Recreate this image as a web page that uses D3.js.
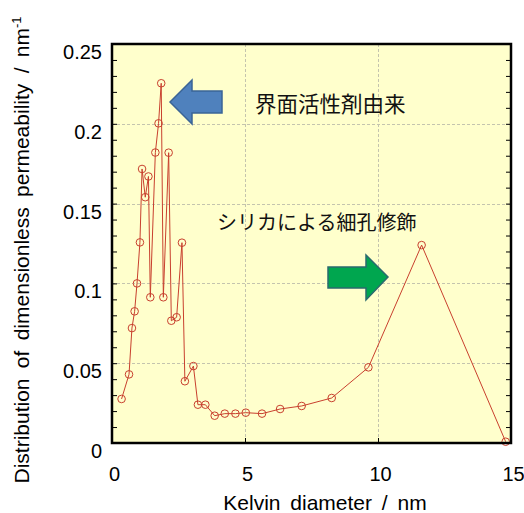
<!DOCTYPE html>
<html>
<head>
<meta charset="utf-8">
<script src="https://cdn.jsdelivr.net/npm/d3@7"></script>
<style>
  html, body { margin: 0; padding: 0; background: #fff; }
  svg { display: block; }
</style>
</head>
<body>
<svg id="chart" width="524" height="513"></svg>
<script>
// Kelvin diameter (nm) and distribution of dimensionless permeability (nm^-1)
const diameters = [0.36, 0.64, 0.75, 0.85, 0.94, 1.05, 1.13, 1.25, 1.37, 1.44,
                   1.63, 1.75, 1.85, 1.93, 2.13, 2.23, 2.43, 2.63, 2.74, 3.06,
                   3.23, 3.51, 3.86, 4.24, 4.64, 5.03, 5.64, 6.32, 7.13, 8.26,
                   9.64, 11.64, 14.8];
const permeability = [0.0276, 0.043, 0.072, 0.0825, 0.100, 0.1257, 0.1717, 0.154, 0.167, 0.0913,
                      0.182, 0.2003, 0.2254, 0.0913, 0.1819, 0.0766, 0.0788, 0.1255, 0.0387, 0.0482,
                      0.024, 0.024, 0.0171, 0.0184, 0.0184, 0.019, 0.0184, 0.0213, 0.0232, 0.0282,
                      0.0474, 0.124, 0.0008];

const xTicks = [0, 5, 10, 15];
const yTicks = [0, 0.05, 0.1, 0.15, 0.2, 0.25];
const yTickLabels = ["0", "0.05", "0.1", "0.15", "0.2", "0.25"];
const yMinorTicks = d3.range(1, 25).map(i => i / 100);
const xGrid = [5, 10];
const yGrid = [0.05, 0.1, 0.15, 0.2];

const annotations = [
  { text: "界面活性剤由来", x: 255, y: 112, size: 21.5 },
  { text: "シリカによる細孔修飾", x: 217, y: 230, size: 20 }
];

const svg = d3.select("#chart");
const plotLeft = 112, plotRight = 511, plotTop = 44, plotBottom = 443;

const x = d3.scaleLinear().domain([0, 15]).range([plotLeft, plotRight]);
const y = d3.scaleLinear().domain([0, 0.25]).range([plotBottom, plotTop]);

// plot background
svg.append("rect")
  .attr("x", plotLeft).attr("y", plotTop)
  .attr("width", plotRight - plotLeft).attr("height", plotBottom - plotTop)
  .attr("fill", "#ffffcc");

// dashed grid
const grid = svg.append("g").attr("stroke", "#c4c4ae").attr("stroke-width", 1)
  .attr("stroke-dasharray", "3,2");
grid.selectAll("line.h").data(yGrid).join("line")
  .attr("x1", plotLeft).attr("x2", plotRight)
  .attr("y1", d => Math.round(y(d)) + 0.5).attr("y2", d => Math.round(y(d)) + 0.5);
grid.selectAll("line.v").data(xGrid).join("line")
  .attr("y1", plotTop).attr("y2", plotBottom)
  .attr("x1", d => Math.round(x(d)) + 0.5).attr("x2", d => Math.round(x(d)) + 0.5);

// inward minor ticks on left and right
const tickStyle = g => {
  g.select(".domain").remove();
  g.selectAll(".tick line").attr("stroke", "#000").attr("stroke-width", 1);
};
svg.append("g").attr("transform", `translate(${plotLeft},0)`)
  .call(d3.axisLeft(y).tickValues(yMinorTicks).tickSize(-5).tickFormat(""))
  .call(tickStyle);
svg.append("g").attr("transform", `translate(${plotRight},0)`)
  .call(d3.axisRight(y).tickValues(yMinorTicks).tickSize(-5).tickFormat(""))
  .call(tickStyle);
svg.append("g").attr("transform", `translate(0,${plotBottom})`)
  .call(d3.axisBottom(x).tickValues(xGrid).tickSize(-5).tickFormat(""))
  .call(tickStyle);

// tick labels
const yAxis = svg.append("g").attr("transform", `translate(${plotLeft},0)`)
  .call(d3.axisLeft(y).tickValues(yTicks).tickSize(0).tickPadding(10)
    .tickFormat((d, i) => yTickLabels[i]));
yAxis.select(".domain").remove();
yAxis.selectAll("text")
  .attr("dy", "0.72em")
  .attr("font-family", "'Liberation Sans', Arial, sans-serif")
  .attr("font-size", 20).attr("fill", "#000");

const xAxis = svg.append("g").attr("transform", `translate(0,${plotBottom})`)
  .call(d3.axisBottom(x).tickValues(xTicks).tickSize(0).tickPadding(24));
xAxis.select(".domain").remove();
xAxis.selectAll("text")
  .attr("dx", 2)
  .attr("font-family", "'Liberation Sans', Arial, sans-serif")
  .attr("font-size", 20).attr("fill", "#000");

// data line and markers
const red = "#c8402e";
const pts = diameters.map((d, i) => [d, permeability[i]]);
svg.append("path")
  .datum(pts)
  .attr("fill", "none").attr("stroke", red).attr("stroke-width", 1)
  .attr("d", d3.line().x(d => x(d[0])).y(d => y(d[1])));
svg.append("g").selectAll("circle").data(pts).join("circle")
  .attr("cx", d => x(d[0])).attr("cy", d => y(d[1])).attr("r", 3.8)
  .attr("fill", "none").attr("stroke", red).attr("stroke-width", 1);

// frame
svg.append("rect")
  .attr("x", plotLeft).attr("y", plotTop)
  .attr("width", plotRight - plotLeft).attr("height", plotBottom - plotTop)
  .attr("fill", "none").attr("stroke", "#000").attr("stroke-width", 2.5);

// axis titles
svg.append("text")
  .attr("x", 325).attr("y", 510)
  .attr("text-anchor", "middle")
  .attr("font-family", "'Liberation Sans', Arial, sans-serif")
  .attr("font-size", 21).attr("word-spacing", 4)
  .text("Kelvin diameter / nm");

const yTitle = svg.append("text")
  .attr("transform", "translate(29,250) rotate(-90)")
  .attr("text-anchor", "middle")
  .attr("font-family", "'Liberation Sans', Arial, sans-serif")
  .attr("font-size", 21).attr("word-spacing", 4.5);
yTitle.append("tspan").text("Distribution of dimensionless permeability / nm");
yTitle.append("tspan").attr("font-size", 13).attr("dy", -8).text("-1");

// arrows
const blueArrow = [[170, 102], [192, 80], [192, 91], [222, 91], [222, 113], [192, 113], [192, 124]];
const greenArrow = [[328, 267], [366, 267], [366, 255], [388, 277], [366, 300], [366, 288], [328, 288]];
svg.append("polygon")
  .attr("points", blueArrow.map(p => p.join(",")).join(" "))
  .attr("fill", "#4f81bd").attr("stroke", "#3a6496").attr("stroke-width", 1.5);
svg.append("polygon")
  .attr("points", greenArrow.map(p => p.join(",")).join(" "))
  .attr("fill", "#00a64f").attr("stroke", "#2a6a6e").attr("stroke-width", 1.5);

// annotations
svg.append("g").selectAll("text").data(annotations).join("text")
  .attr("x", d => d.x).attr("y", d => d.y)
  .attr("font-family", "'Noto Sans CJK JP', sans-serif")
  .attr("font-size", d => d.size).attr("fill", "#111")
  .text(d => d.text);
</script>
</body>
</html>
